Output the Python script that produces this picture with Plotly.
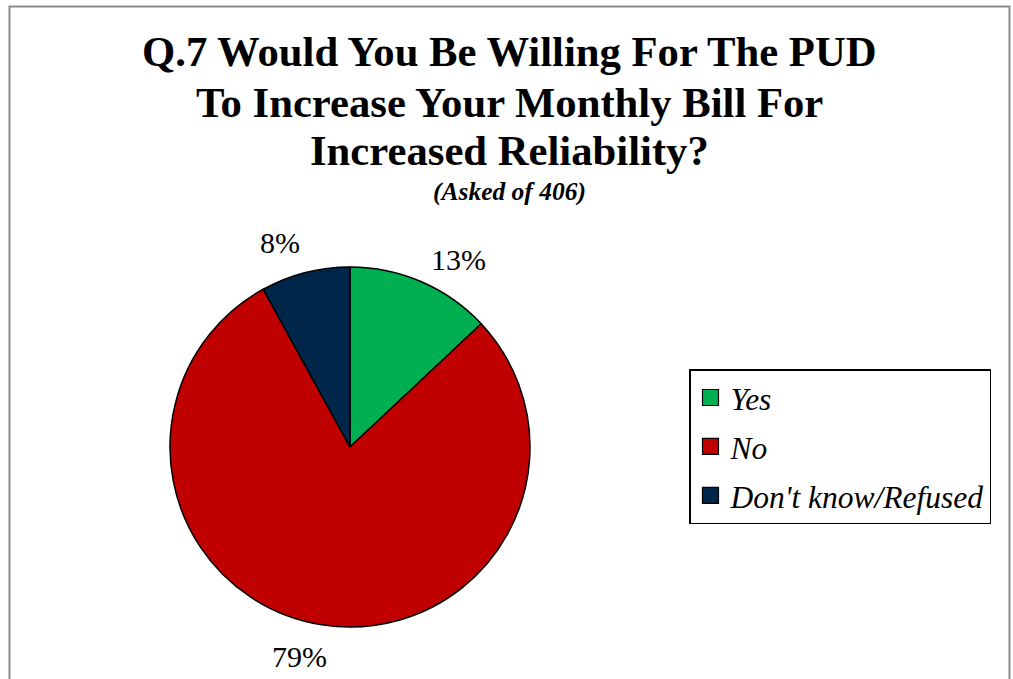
import math
import plotly.graph_objects as go

categories = ["Yes", "No", "Don't know/Refused"]
values = [13, 79, 8]
colors = ["#00B050", "#C00000", "#00264A"]
label_nudge_deg = [6.6, 4.6, -4.5]
title_lines = ["Q.7 Would You Be Willing For The PUD",
               "To Increase Your Monthly Bill For",
               "Increased Reliability?"]
subtitle = "(Asked of 406)"

W, H = 1013, 679
cx_px, cy_px, r_px = 350, 447, 180
SERIF = "Times New Roman, Liberation Serif, serif"

fig = go.Figure()
fig.add_trace(go.Pie(
    labels=categories, values=values, sort=False, direction="clockwise",
    rotation=0, marker=dict(colors=colors, line=dict(color="black", width=1.5)),
    textinfo="none", hoverinfo="label+percent", showlegend=False,
    domain=dict(x=[(cx_px - r_px) / W, (cx_px + r_px) / W],
                y=[(H - cy_px - r_px) / H, (H - cy_px + r_px) / H]),
))

for c, col in zip(categories, colors):
    fig.add_trace(go.Scatter(
        x=[None], y=[None], mode="markers", name=c, legendgroup=c,
        marker=dict(symbol="square", size=16, color=col, line=dict(color="black", width=1.2)),
    ))

total = sum(values)
cum = 0
annotations = []
for v, nudge in zip(values, label_nudge_deg):
    mid = (cum + v / 2) / total * 360 + nudge
    cum += v
    a = math.radians(mid)
    dist = 216
    x_px = cx_px + dist * math.sin(a)
    y_px = cy_px - dist * math.cos(a)
    annotations.append(dict(
        x=x_px / W, y=(H - y_px) / H, xref="paper", yref="paper",
        text=f"{round(v / total * 100)}%", showarrow=False,
        font=dict(family=SERIF, size=30, color="black"),
        xanchor="center", yanchor="middle",
    ))

for line, yc in zip(title_lines, [52, 102, 150]):
    annotations.append(dict(
        x=509 / W, y=(H - yc) / H, xref="paper", yref="paper",
        text=f"<b>{line}</b>", showarrow=False,
        font=dict(family=SERIF, size=42.7, color="black"),
        xanchor="center", yanchor="middle",
    ))

annotations.append(dict(
    x=509 / W, y=(H - 191) / H, xref="paper", yref="paper",
    text=f"<b><i>{subtitle}</i></b>", showarrow=False,
    font=dict(family=SERIF, size=25.5, color="black"),
    xanchor="center", yanchor="middle",
))

fig.update_layout(
    width=W, height=H,
    margin=dict(l=0, r=0, t=0, b=0),
    paper_bgcolor="white", plot_bgcolor="white",
    xaxis=dict(visible=False), yaxis=dict(visible=False),
    legend=dict(
        x=689 / W, y=(H - 369) / H, xanchor="left", yanchor="top",
        bordercolor="black", borderwidth=1.5, bgcolor="white",
        font=dict(family=SERIF, size=31.5, color="black", style="italic"),
        tracegroupgap=5, itemwidth=30,
    ),
    annotations=annotations,
    shapes=[dict(type="rect", xref="paper", yref="paper",
                 x0=9.5 / W, x1=1009.5 / W, y0=-0.05, y1=(H - 6.5) / H,
                 line=dict(color="#8c8c8c", width=2), fillcolor="rgba(0,0,0,0)")],
)

fig.write_html("out.html")
